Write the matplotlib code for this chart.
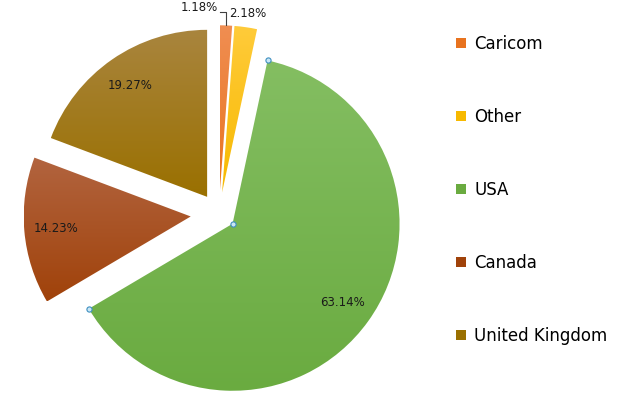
import numpy as np
import matplotlib.pyplot as plt
from matplotlib.colors import LinearSegmentedColormap
from matplotlib.patches import Patch

regions = ["Caricom", "Other", "USA", "Canada", "United Kingdom"]
shares = [1.18, 2.18, 63.14, 14.23, 19.27]
top_colors = ["#F08E52", "#FFCB3A", "#84BE62", "#B2643F", "#A9853E"]
base_colors = ["#E8731F", "#F7B900", "#6AAB40", "#A0420A", "#9A7000"]
explode = [0.13, 0.13, 0.10, 0.17, 0.125]

fig = plt.figure(figsize=(6.19, 4.03), dpi=100)
ax = fig.add_axes([0, 0, 1, 1])

wedges, texts, autotexts = ax.pie(
    shares, explode=explode, startangle=90, counterclock=False,
    colors=base_colors, autopct="%.2f%%", pctdistance=0.81,
    textprops={"fontsize": 8.5, "color": "#1a1a1a"},
    wedgeprops={"linewidth": 0},
)

ax.set_xlim(-219 / 167, 400 / 167)
ax.set_ylim(-189 / 167, 214 / 167)
ax.set_aspect("equal")
ax.axis("off")

# vertical gradient in each slice, lighter at the top
grad = np.linspace(0, 1, 256).reshape(-1, 1)
for w, c0, c1 in zip(wedges, top_colors, base_colors):
    bb = w.get_path().get_extents(w.get_patch_transform())
    cmap = LinearSegmentedColormap.from_list("g", [c1, c0])
    im = ax.imshow(grad, cmap=cmap, origin="lower", aspect="auto",
                   extent=[bb.x0, bb.x1, bb.y0, bb.y1], zorder=1)
    im.set_clip_path(w)
    w.set_visible(False)

for t in autotexts:
    t.set_zorder(3)

# small slices: labels outside the pie
def slice_geom(w):
    mid = np.deg2rad((w.theta1 + w.theta2) / 2)
    cx, cy = w.center
    return cx, cy, mid

cx, cy, mid = slice_geom(wedges[1])
autotexts[1].set_position((cx + 1.08 * np.cos(mid), cy + 1.08 * np.sin(mid)))

cx, cy, mid = slice_geom(wedges[0])
ex, ey = cx + np.cos(mid), cy + np.sin(mid)
ax.plot([ex, ex, ex - 0.035], [ey, ey + 0.08, ey + 0.08], color="#404040", lw=0.8, zorder=3)
autotexts[0].set_position((ex - 0.05, ey + 0.105))
autotexts[0].set_ha("right")

# selection handles on the USA slice
w = wedges[2]
cx, cy = w.center
hx = [cx, cx + np.cos(np.deg2rad(w.theta1)), cx + np.cos(np.deg2rad(w.theta2))]
hy = [cy, cy + np.sin(np.deg2rad(w.theta1)), cy + np.sin(np.deg2rad(w.theta2))]
ax.scatter(hx, hy, s=14, facecolor="#C9E6F5", edgecolor="#3E8FC0", linewidth=0.8, zorder=4)

handles = [Patch(facecolor=c, edgecolor="none") for c in base_colors]
leg = ax.legend(handles, regions, loc="upper left", bbox_to_anchor=(456 / 619, 1 - 35 / 403),
                frameon=False, fontsize=12, handlelength=0.6, handleheight=0.6,
                handletextpad=0.5, labelspacing=3.3, borderaxespad=0, borderpad=0)

fig.savefig("out.png", dpi=100)
